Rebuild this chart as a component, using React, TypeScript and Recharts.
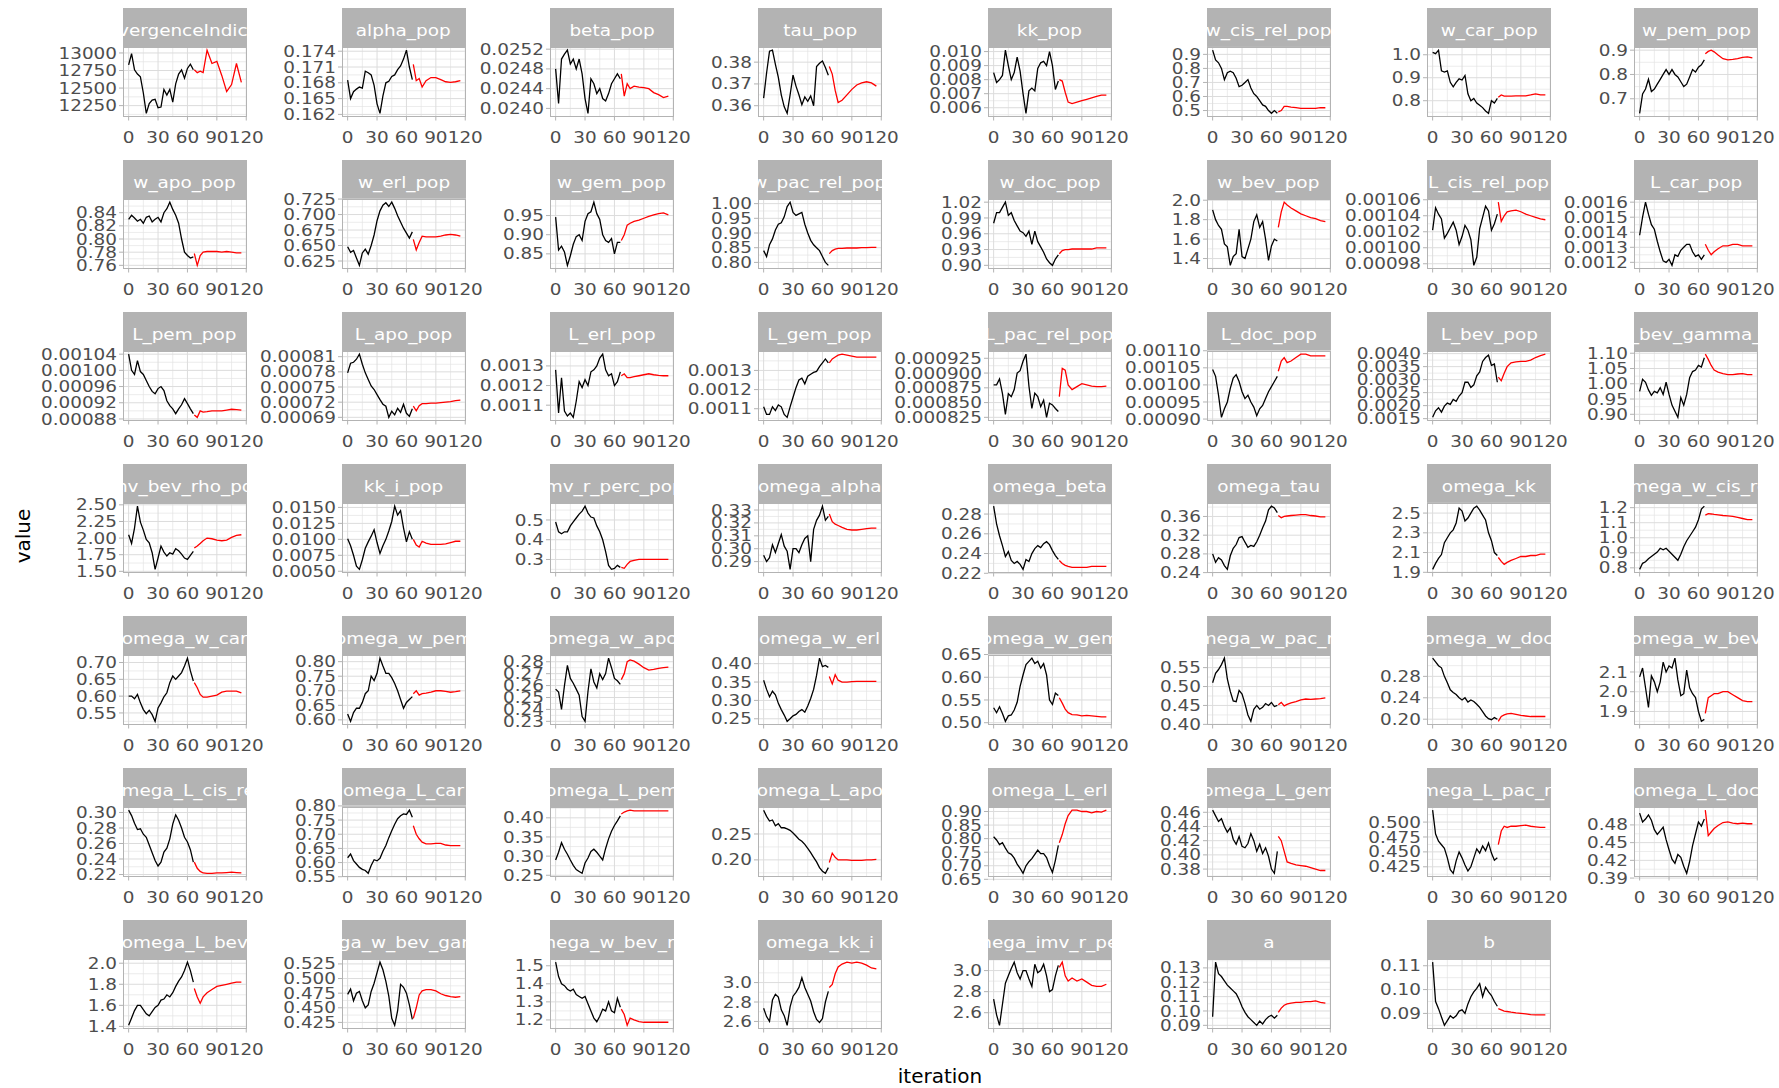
import React from "react";
import { LineChart, Line, XAxis, YAxis, CartesianGrid } from "recharts";

const ITER_B = [0, 3, 6, 9, 12, 15, 18, 21, 24, 27, 30, 33, 36, 39, 42, 45, 48, 51, 54, 57, 60, 63, 66];
const ITER_R = [67, 70, 73, 76, 80, 85, 90, 95, 100, 105, 110, 115];
const X_TICKS = [0, 30, 60, 90, 120];
const X_MINOR = [15, 45, 75, 105];

const convergenceIndicator_b = [12830, 12990, 12760, 12700, 12660, 12430, 12140, 12280, 12330, 12340, 12220, 12230, 12480, 12400, 12480, 12300, 12560, 12700, 12760, 12640, 12780, 12840, 12760];
const convergenceIndicator_r = [12760, 12720, 12740, 12720, 13040, 12850, 12880, 12680, 12450, 12550, 12850, 12580];
const convergenceIndicator_t = ["12250", "12500", "12750", "13000"];

const alpha_pop_b = [0.1685, 0.165, 0.1663, 0.1668, 0.1672, 0.167, 0.1702, 0.1699, 0.1695, 0.1675, 0.164, 0.1622, 0.1655, 0.168, 0.1683, 0.1692, 0.1695, 0.1705, 0.1712, 0.1725, 0.1742, 0.171, 0.1686];
const alpha_pop_r = [0.1715, 0.1684, 0.1688, 0.1672, 0.1684, 0.169, 0.169, 0.1686, 0.1682, 0.1681, 0.1682, 0.1684];
const alpha_pop_t = ["0.162", "0.165", "0.168", "0.171", "0.174"];

const beta_pop_b = [0.0248, 0.0241, 0.025, 0.0251, 0.02518, 0.0249, 0.025, 0.0248, 0.025, 0.0247, 0.0242, 0.0239, 0.0246, 0.0245, 0.0243, 0.0244, 0.0242, 0.02415, 0.0243, 0.0245, 0.0246, 0.0247, 0.0246];
const beta_pop_r = [0.0247, 0.02425, 0.0245, 0.0244, 0.02445, 0.02443, 0.02442, 0.0244, 0.02432, 0.02428, 0.02422, 0.02425];
const beta_pop_t = ["0.0240", "0.0244", "0.0248", "0.0252"];

const tau_pop_b = [0.3635, 0.375, 0.385, 0.3855, 0.379, 0.373, 0.365, 0.3595, 0.3565, 0.365, 0.374, 0.369, 0.365, 0.3605, 0.364, 0.362, 0.3645, 0.36, 0.378, 0.3795, 0.3805, 0.3775, 0.374];
const tau_pop_r = [0.378, 0.3745, 0.367, 0.3615, 0.3625, 0.365, 0.3675, 0.3695, 0.3705, 0.371, 0.3705, 0.369];
const tau_pop_t = ["0.36", "0.37", "0.38"];

const kk_pop_b = [0.0085, 0.0078, 0.008, 0.0083, 0.0101, 0.009, 0.008, 0.0085, 0.0096, 0.0086, 0.007, 0.0056, 0.0072, 0.0074, 0.0072, 0.0088, 0.0092, 0.0093, 0.009, 0.01, 0.009, 0.0073, 0.0079];
const kk_pop_r = [0.008, 0.0079, 0.0071, 0.0064, 0.0063, 0.0064, 0.0065, 0.0066, 0.0067, 0.0068, 0.0069, 0.0069];
const kk_pop_t = ["0.006", "0.007", "0.008", "0.009", "0.010"];

const w_cis_rel_pop_b = [0.93, 0.86, 0.84, 0.8, 0.72, 0.77, 0.78, 0.77, 0.73, 0.67, 0.68, 0.7, 0.72, 0.66, 0.62, 0.6, 0.57, 0.54, 0.53, 0.5, 0.48, 0.5, 0.48];
const w_cis_rel_pop_r = [0.49, 0.5, 0.53, 0.53, 0.525, 0.52, 0.515, 0.515, 0.515, 0.515, 0.52, 0.52];
const w_cis_rel_pop_t = ["0.5", "0.6", "0.7", "0.8", "0.9"];

const w_car_pop_b = [1.01, 1.005, 1.02, 0.93, 0.925, 0.93, 0.88, 0.86, 0.88, 0.895, 0.89, 0.91, 0.83, 0.8, 0.81, 0.79, 0.78, 0.77, 0.755, 0.745, 0.8, 0.79, 0.81];
const w_car_pop_r = [0.815, 0.825, 0.82, 0.82, 0.82, 0.821, 0.821, 0.821, 0.825, 0.83, 0.825, 0.825];
const w_car_pop_t = ["0.8", "0.9", "1.0"];

const w_pem_pop_b = [0.64, 0.72, 0.74, 0.78, 0.73, 0.74, 0.76, 0.78, 0.8, 0.82, 0.8, 0.82, 0.8, 0.79, 0.77, 0.75, 0.76, 0.79, 0.82, 0.81, 0.83, 0.84, 0.86];
const w_pem_pop_r = [0.885, 0.895, 0.9, 0.893, 0.88, 0.865, 0.86, 0.862, 0.865, 0.87, 0.872, 0.868];
const w_pem_pop_t = ["0.7", "0.8", "0.9"];

const w_apo_pop_b = [0.83, 0.836, 0.832, 0.827, 0.83, 0.824, 0.833, 0.835, 0.826, 0.83, 0.833, 0.826, 0.84, 0.846, 0.856, 0.845, 0.836, 0.824, 0.8, 0.78, 0.775, 0.771, 0.773];
const w_apo_pop_r = [0.778, 0.76, 0.775, 0.78, 0.781, 0.781, 0.781, 0.78, 0.781, 0.78, 0.779, 0.779];
const w_apo_pop_t = ["0.76", "0.78", "0.80", "0.82", "0.84"];

const w_erl_pop_b = [0.648, 0.639, 0.642, 0.63, 0.618, 0.638, 0.644, 0.636, 0.65, 0.667, 0.69, 0.706, 0.715, 0.719, 0.713, 0.72, 0.71, 0.698, 0.688, 0.678, 0.67, 0.662, 0.672];
const w_erl_pop_r = [0.66, 0.643, 0.655, 0.665, 0.664, 0.664, 0.664, 0.665, 0.667, 0.668, 0.667, 0.665];
const w_erl_pop_t = ["0.625", "0.650", "0.675", "0.700", "0.725"];

const w_gem_pop_b = [0.946, 0.86, 0.87, 0.855, 0.82, 0.845, 0.875, 0.895, 0.9, 0.885, 0.935, 0.955, 0.96, 0.985, 0.955, 0.94, 0.9, 0.885, 0.88, 0.89, 0.85, 0.88, 0.88];
const w_gem_pop_r = [0.885, 0.9, 0.925, 0.93, 0.935, 0.938, 0.943, 0.948, 0.952, 0.955, 0.957, 0.952];
const w_gem_pop_t = ["0.85", "0.90", "0.95"];

const w_pac_rel_pop_b = [0.84, 0.82, 0.86, 0.88, 0.91, 0.93, 0.935, 0.955, 0.99, 1.005, 0.97, 0.96, 0.965, 0.97, 0.93, 0.9, 0.875, 0.86, 0.85, 0.84, 0.82, 0.8, 0.79];
const w_pac_rel_pop_r = [0.83, 0.84, 0.845, 0.848, 0.848, 0.849, 0.849, 0.849, 0.85, 0.85, 0.851, 0.851];
const w_pac_rel_pop_t = ["0.80", "0.85", "0.90", "0.95", "1.00"];

const w_doc_pop_b = [0.98, 1.0, 1.0, 1.01, 1.02, 0.995, 1.0, 0.985, 0.975, 0.965, 0.962, 0.955, 0.965, 0.94, 0.965, 0.945, 0.935, 0.925, 0.912, 0.905, 0.9, 0.912, 0.92];
const w_doc_pop_r = [0.922, 0.928, 0.93, 0.93, 0.931, 0.931, 0.931, 0.931, 0.931, 0.933, 0.933, 0.933];
const w_doc_pop_t = ["0.90", "0.93", "0.96", "0.99", "1.02"];

const w_bev_pop_b = [1.9, 1.8, 1.74, 1.7, 1.55, 1.52, 1.33, 1.42, 1.45, 1.7, 1.42, 1.4, 1.5, 1.6, 1.78, 1.85, 1.72, 1.78, 1.6, 1.38, 1.53, 1.6, 1.58];
const w_bev_pop_r = [1.72, 1.88, 1.98, 1.95, 1.92, 1.89, 1.86, 1.84, 1.82, 1.81, 1.79, 1.78];
const w_bev_pop_t = ["1.4", "1.6", "1.8", "2.0"];

const L_cis_rel_pop_b = [0.001022, 0.00105, 0.001042, 0.001036, 0.001012, 0.001018, 0.001025, 0.001032, 0.001022, 0.001004, 0.001014, 0.001028, 0.001022, 0.00101, 0.000978, 0.000988, 0.001024, 0.001038, 0.001052, 0.001046, 0.001022, 0.00103, 0.001042];
const L_cis_rel_pop_r = [0.001057, 0.001033, 0.00104, 0.001045, 0.001046, 0.001047, 0.001045, 0.001042, 0.00104, 0.001038, 0.001036, 0.001035];
const L_cis_rel_pop_t = ["0.00098", "0.00100", "0.00102", "0.00104", "0.00106"];

const L_car_pop_b = [0.00138, 0.0015, 0.0016, 0.00152, 0.00145, 0.00142, 0.00134, 0.00127, 0.00121, 0.0012, 0.00122, 0.00118, 0.00125, 0.00124, 0.00128, 0.0013, 0.00132, 0.00132, 0.00127, 0.00124, 0.00125, 0.00122, 0.00125];
const L_car_pop_r = [0.00132, 0.00128, 0.00125, 0.00127, 0.00129, 0.00131, 0.00131, 0.00132, 0.00132, 0.00131, 0.00131, 0.00131];
const L_car_pop_t = ["0.0012", "0.0013", "0.0014", "0.0015", "0.0016"];

const L_pem_pop_b = [0.00104, 0.001, 0.00099, 0.001024, 0.000997, 0.00099, 0.000975, 0.00096, 0.000948, 0.000942, 0.000955, 0.00096, 0.00095, 0.000925, 0.000913, 0.000905, 0.000893, 0.000905, 0.000915, 0.00093, 0.000918, 0.000905, 0.000893];
const L_pem_pop_r = [0.00089, 0.000884, 0.0009, 0.000897, 0.000898, 0.0009, 0.0009, 0.0009, 0.000902, 0.000904, 0.000903, 0.000902];
const L_pem_pop_t = ["0.00088", "0.00092", "0.00096", "0.00100", "0.00104"];

const L_apo_pop_b = [0.000778, 0.000797, 0.000799, 0.000805, 0.000815, 0.000795, 0.000778, 0.000765, 0.000752, 0.000745, 0.000735, 0.000725, 0.000716, 0.000712, 0.00069, 0.000702, 0.000695, 0.000708, 0.0007, 0.000716, 0.000698, 0.000692, 0.000707];
const L_apo_pop_r = [0.000712, 0.000703, 0.000713, 0.000717, 0.000717, 0.000718, 0.000718, 0.000719, 0.00072, 0.000721, 0.000723, 0.000724];
const L_apo_pop_t = ["0.00069", "0.00072", "0.00075", "0.00078", "0.00081"];

const L_erl_pop_b = [0.00128, 0.00106, 0.00124, 0.00107, 0.001045, 0.00106, 0.001038, 0.00112, 0.00122, 0.00119, 0.00123, 0.0012, 0.00127, 0.00128, 0.0013, 0.00134, 0.00136, 0.00128, 0.00125, 0.00126, 0.0012, 0.00122, 0.00127];
const L_erl_pop_r = [0.00125, 0.00126, 0.00124, 0.00124, 0.001245, 0.00125, 0.001255, 0.00126, 0.001255, 0.001252, 0.00125, 0.00125];
const L_erl_pop_t = ["0.0011", "0.0012", "0.0013"];

const L_gem_pop_b = [0.00111, 0.00107, 0.00107, 0.00111, 0.00109, 0.00112, 0.00111, 0.00107, 0.001055, 0.00111, 0.00116, 0.00121, 0.00125, 0.00126, 0.00123, 0.00127, 0.00128, 0.00129, 0.001295, 0.00132, 0.00134, 0.00136, 0.00134];
const L_gem_pop_r = [0.00134, 0.00136, 0.00137, 0.00138, 0.001385, 0.00138, 0.001375, 0.00137, 0.00137, 0.00137, 0.00137, 0.00137];
const L_gem_pop_t = ["0.0011", "0.0012", "0.0013"];

const L_pac_rel_pop_b = [0.00088, 0.00088, 0.00089, 0.000865, 0.00083, 0.000865, 0.00086, 0.000872, 0.0009, 0.000904, 0.00092, 0.000932, 0.000878, 0.00084, 0.000866, 0.00086, 0.000843, 0.000854, 0.000825, 0.000849, 0.000846, 0.00084, 0.000835];
const L_pac_rel_pop_r = [0.00086, 0.000908, 0.000905, 0.00088, 0.000872, 0.000877, 0.000882, 0.00088, 0.000878, 0.000877, 0.000877, 0.000878];
const L_pac_rel_pop_t = ["0.000825", "0.000850", "0.000875", "0.000900", "0.000925"];

const L_doc_pop_b = [0.001045, 0.001025, 0.00097, 0.000905, 0.00093, 0.00095, 0.00099, 0.00102, 0.00103, 0.00101, 0.00098, 0.00096, 0.00097, 0.00095, 0.000935, 0.00091, 0.00093, 0.00094, 0.00096, 0.00098, 0.000995, 0.00101, 0.001025];
const L_doc_pop_r = [0.00104, 0.00107, 0.00108, 0.001065, 0.00107, 0.00108, 0.00109, 0.00109, 0.001085, 0.001085, 0.001085, 0.001085];
const L_doc_pop_t = ["0.00090", "0.00095", "0.00100", "0.00105", "0.00110"];

const L_bev_pop_b = [0.00155, 0.0018, 0.00192, 0.00175, 0.00198, 0.0021, 0.00205, 0.00224, 0.00217, 0.00237, 0.0025, 0.0029, 0.0029, 0.0027, 0.0028, 0.00315, 0.0033, 0.0037, 0.00385, 0.00394, 0.00355, 0.0036, 0.0029];
const L_bev_pop_r = [0.0031, 0.00296, 0.00325, 0.0035, 0.00365, 0.00368, 0.0037, 0.0037, 0.00375, 0.00385, 0.00392, 0.00398];
const L_bev_pop_t = ["0.0015", "0.0020", "0.0025", "0.0030", "0.0035", "0.0040"];

const imv_bev_gamma_pop_b = [0.975, 1.015, 1.005, 0.98, 0.962, 0.975, 0.97, 0.987, 0.965, 1.005, 0.965, 0.93, 0.91, 0.89, 0.955, 0.93, 0.965, 1.02, 1.04, 1.045, 1.06, 1.055, 1.085];
const imv_bev_gamma_pop_r = [1.097, 1.08, 1.06, 1.045, 1.038, 1.033, 1.03, 1.03, 1.032, 1.033, 1.03, 1.03];
const imv_bev_gamma_pop_t = ["0.90", "0.95", "1.00", "1.05", "1.10"];

const imv_bev_rho_pop_b = [2.05, 1.92, 2.15, 2.48, 2.24, 2.12, 1.98, 1.93, 1.78, 1.53, 1.7, 1.88, 1.79, 1.73, 1.78, 1.76, 1.84, 1.81, 1.76, 1.7, 1.68, 1.74, 1.8];
const imv_bev_rho_pop_r = [1.85, 1.88, 1.92, 1.96, 2.0, 1.99, 1.97, 1.96, 1.97, 2.01, 2.04, 2.05];
const imv_bev_rho_pop_t = ["1.50", "1.75", "2.00", "2.25", "2.50"];

const kk_i_pop_b = [0.0101, 0.009, 0.0075, 0.0058, 0.0053, 0.0068, 0.0086, 0.0096, 0.0105, 0.0115, 0.0095, 0.0078, 0.009, 0.01, 0.0113, 0.0128, 0.0152, 0.0138, 0.0145, 0.0118, 0.0096, 0.0112, 0.01];
const kk_i_pop_r = [0.01, 0.0091, 0.0088, 0.0097, 0.0094, 0.0092, 0.0092, 0.0092, 0.0093, 0.0095, 0.0097, 0.0097];
const kk_i_pop_t = ["0.0050", "0.0075", "0.0100", "0.0125", "0.0150"];

const imv_r_perc_pop_b = [0.49, 0.44, 0.43, 0.44, 0.44, 0.47, 0.49, 0.51, 0.53, 0.545, 0.57, 0.535, 0.515, 0.51, 0.47, 0.44, 0.4, 0.34, 0.27, 0.25, 0.255, 0.27, 0.26];
const imv_r_perc_pop_r = [0.26, 0.255, 0.275, 0.29, 0.295, 0.3, 0.3, 0.3, 0.3, 0.3, 0.3, 0.3];
const imv_r_perc_pop_t = ["0.3", "0.4", "0.5"];

const omega_alpha_b = [0.295, 0.29, 0.293, 0.303, 0.297, 0.304, 0.311, 0.302, 0.298, 0.284, 0.3, 0.3, 0.297, 0.303, 0.308, 0.31, 0.29, 0.315, 0.322, 0.326, 0.333, 0.322, 0.325];
const omega_alpha_r = [0.327, 0.321, 0.319, 0.318, 0.3165, 0.315, 0.3145, 0.3145, 0.315, 0.3155, 0.316, 0.316];
const omega_alpha_t = ["0.29", "0.30", "0.31", "0.32", "0.33"];

const omega_beta_b = [0.288, 0.27, 0.258, 0.248, 0.237, 0.242, 0.233, 0.23, 0.232, 0.229, 0.224, 0.234, 0.232, 0.24, 0.245, 0.248, 0.246, 0.25, 0.252, 0.249, 0.243, 0.238, 0.234];
const omega_beta_r = [0.233, 0.23, 0.228, 0.227, 0.226, 0.226, 0.226, 0.226, 0.227, 0.227, 0.227, 0.227];
const omega_beta_t = ["0.22", "0.24", "0.26", "0.28"];

const omega_tau_b = [0.28, 0.262, 0.272, 0.267, 0.255, 0.247, 0.276, 0.292, 0.3, 0.315, 0.317, 0.305, 0.294, 0.298, 0.296, 0.306, 0.32, 0.336, 0.35, 0.374, 0.382, 0.378, 0.368];
const omega_tau_r = [0.362, 0.357, 0.36, 0.361, 0.362, 0.363, 0.364, 0.364, 0.362, 0.361, 0.359, 0.359];
const omega_tau_t = ["0.24", "0.28", "0.32", "0.36"];

const omega_kk_b = [1.93, 1.99, 2.04, 2.08, 2.2, 2.25, 2.3, 2.33, 2.4, 2.55, 2.52, 2.42, 2.45, 2.5, 2.55, 2.57, 2.53, 2.48, 2.43, 2.3, 2.22, 2.1, 2.07];
const omega_kk_r = [2.05, 2.01, 1.98, 2.0, 2.02, 2.04, 2.06, 2.06, 2.07, 2.07, 2.085, 2.085];
const omega_kk_t = ["1.9", "2.1", "2.3", "2.5"];

const omega_w_cis_rel_b = [0.79, 0.83, 0.84, 0.86, 0.875, 0.89, 0.905, 0.93, 0.92, 0.93, 0.91, 0.89, 0.87, 0.85, 0.89, 0.94, 0.98, 1.01, 1.04, 1.07, 1.12, 1.19, 1.21];
const omega_w_cis_rel_r = [1.15, 1.16, 1.158, 1.155, 1.152, 1.148, 1.145, 1.142, 1.135, 1.128, 1.12, 1.12];
const omega_w_cis_rel_t = ["0.8", "0.9", "1.0", "1.1", "1.2"];

const omega_w_car_b = [0.6, 0.6, 0.592, 0.605, 0.58, 0.56, 0.548, 0.558, 0.545, 0.525, 0.565, 0.58, 0.598, 0.61, 0.64, 0.66, 0.65, 0.66, 0.67, 0.69, 0.713, 0.675, 0.645];
const omega_w_car_r = [0.64, 0.625, 0.605, 0.597, 0.597, 0.6, 0.603, 0.612, 0.615, 0.615, 0.615, 0.61];
const omega_w_car_t = ["0.55", "0.60", "0.65", "0.70"];

const omega_w_pem_b = [0.62, 0.595, 0.625, 0.64, 0.64, 0.66, 0.69, 0.7, 0.75, 0.735, 0.76, 0.812, 0.785, 0.76, 0.76, 0.745, 0.725, 0.7, 0.67, 0.64, 0.66, 0.67, 0.68];
const omega_w_pem_r = [0.69, 0.7, 0.685, 0.69, 0.692, 0.695, 0.7, 0.7, 0.698, 0.695, 0.697, 0.7];
const omega_w_pem_t = ["0.60", "0.65", "0.70", "0.75", "0.80"];

const omega_w_apo_b = [0.257, 0.2545, 0.24, 0.26, 0.277, 0.266, 0.262, 0.257, 0.252, 0.234, 0.23, 0.255, 0.274, 0.263, 0.258, 0.27, 0.265, 0.27, 0.283, 0.275, 0.266, 0.264, 0.261];
const omega_w_apo_r = [0.265, 0.27, 0.28, 0.2815, 0.2805, 0.278, 0.275, 0.273, 0.2735, 0.2745, 0.275, 0.2755];
const omega_w_apo_t = ["0.23", "0.24", "0.25", "0.26", "0.27", "0.28"];

const omega_w_erl_b = [0.355, 0.33, 0.31, 0.325, 0.315, 0.292, 0.275, 0.26, 0.243, 0.25, 0.258, 0.262, 0.27, 0.275, 0.268, 0.285, 0.305, 0.33, 0.368, 0.415, 0.392, 0.395, 0.39];
const omega_w_erl_r = [0.365, 0.345, 0.37, 0.355, 0.35, 0.35, 0.351, 0.352, 0.352, 0.352, 0.352, 0.352];
const omega_w_erl_t = ["0.25", "0.30", "0.35", "0.40"];

const omega_w_gem_b = [0.533, 0.522, 0.535, 0.52, 0.503, 0.515, 0.517, 0.528, 0.545, 0.58, 0.605, 0.628, 0.635, 0.642, 0.63, 0.635, 0.62, 0.63, 0.605, 0.55, 0.54, 0.565, 0.56];
const omega_w_gem_r = [0.555, 0.543, 0.53, 0.522, 0.518, 0.517, 0.515, 0.516, 0.515, 0.514, 0.513, 0.513];
const omega_w_gem_t = ["0.50", "0.55", "0.60", "0.65"];

const omega_w_pac_rel_b = [0.51, 0.535, 0.545, 0.558, 0.575, 0.52, 0.487, 0.462, 0.46, 0.49, 0.48, 0.455, 0.425, 0.408, 0.44, 0.45, 0.44, 0.445, 0.455, 0.45, 0.458, 0.447, 0.45];
const omega_w_pac_rel_r = [0.452, 0.458, 0.449, 0.453, 0.457, 0.46, 0.465, 0.467, 0.466, 0.467, 0.468, 0.47];
const omega_w_pac_rel_t = ["0.40", "0.45", "0.50", "0.55"];

const omega_w_doc_b = [0.314, 0.307, 0.3, 0.296, 0.28, 0.268, 0.255, 0.25, 0.246, 0.24, 0.236, 0.24, 0.232, 0.236, 0.233, 0.228, 0.222, 0.214, 0.206, 0.201, 0.199, 0.203, 0.2];
const omega_w_doc_r = [0.196, 0.205, 0.208, 0.21, 0.211, 0.209, 0.207, 0.206, 0.205, 0.205, 0.205, 0.205];
const omega_w_doc_t = ["0.20", "0.24", "0.28"];

const omega_w_bev_b = [2.075, 2.12, 2.02, 1.92, 2.08, 2.05, 2.0, 2.05, 2.15, 2.1, 2.13, 2.12, 2.17, 2.06, 1.98, 1.99, 2.11, 2.02, 1.99, 1.97, 1.9, 1.85, 1.86];
const omega_w_bev_r = [1.89, 1.97, 1.98, 1.99, 1.99, 2.0, 2.0, 1.985, 1.97, 1.955, 1.95, 1.95];
const omega_w_bev_t = ["1.9", "2.0", "2.1"];

const omega_L_cis_rel_b = [0.303, 0.296, 0.286, 0.278, 0.279, 0.272, 0.268, 0.258, 0.248, 0.238, 0.231, 0.236, 0.249, 0.254, 0.266, 0.285, 0.297, 0.29, 0.28, 0.268, 0.262, 0.252, 0.236];
const omega_L_cis_rel_r = [0.236, 0.228, 0.224, 0.222, 0.2215, 0.2215, 0.222, 0.222, 0.2225, 0.223, 0.2225, 0.222];
const omega_L_cis_rel_t = ["0.22", "0.24", "0.26", "0.28", "0.30"];

const omega_L_car_b = [0.617, 0.63, 0.607, 0.595, 0.583, 0.576, 0.572, 0.562, 0.59, 0.61, 0.606, 0.615, 0.64, 0.66, 0.688, 0.712, 0.735, 0.755, 0.765, 0.772, 0.77, 0.785, 0.76];
const omega_L_car_r = [0.73, 0.7, 0.684, 0.672, 0.666, 0.666, 0.668, 0.668, 0.662, 0.66, 0.66, 0.66];
const omega_L_car_t = ["0.55", "0.60", "0.65", "0.70", "0.75", "0.80"];

const omega_L_pem_b = [0.29, 0.31, 0.335, 0.318, 0.305, 0.29, 0.276, 0.265, 0.26, 0.255, 0.282, 0.295, 0.312, 0.318, 0.31, 0.3, 0.29, 0.32, 0.345, 0.365, 0.38, 0.392, 0.405];
const omega_L_pem_r = [0.41, 0.415, 0.418, 0.42, 0.418, 0.418, 0.418, 0.418, 0.418, 0.418, 0.418, 0.418];
const omega_L_pem_t = ["0.25", "0.30", "0.35", "0.40"];

const omega_L_apo_b = [0.296, 0.284, 0.275, 0.277, 0.266, 0.27, 0.262, 0.262, 0.26, 0.257, 0.252, 0.246, 0.24, 0.236, 0.23, 0.222, 0.214, 0.205, 0.196, 0.185, 0.178, 0.174, 0.185];
const omega_L_apo_r = [0.195, 0.213, 0.205, 0.2, 0.2, 0.2, 0.199, 0.199, 0.199, 0.2, 0.2, 0.201];
const omega_L_apo_t = ["0.20", "0.25"];

const omega_L_erl_b = [0.807, 0.795, 0.778, 0.785, 0.765, 0.748, 0.742, 0.728, 0.706, 0.69, 0.672, 0.7, 0.715, 0.726, 0.742, 0.758, 0.745, 0.745, 0.73, 0.7, 0.675, 0.72, 0.775];
const omega_L_erl_r = [0.785, 0.815, 0.855, 0.885, 0.905, 0.905, 0.9, 0.9, 0.895, 0.9, 0.898, 0.905];
const omega_L_erl_t = ["0.65", "0.70", "0.75", "0.80", "0.85", "0.90"];

const omega_L_gem_b = [0.463, 0.455, 0.447, 0.451, 0.44, 0.432, 0.438, 0.422, 0.415, 0.426, 0.412, 0.41, 0.416, 0.43, 0.42, 0.405, 0.415, 0.402, 0.41, 0.398, 0.38, 0.374, 0.405];
const omega_L_gem_r = [0.426, 0.42, 0.405, 0.39, 0.388, 0.386, 0.385, 0.384, 0.382, 0.38, 0.378, 0.378];
const omega_L_gem_t = ["0.38", "0.40", "0.42", "0.44", "0.46"];

const omega_L_pac_rel_b = [0.52, 0.48, 0.468, 0.462, 0.456, 0.44, 0.42, 0.414, 0.435, 0.45, 0.44, 0.428, 0.418, 0.425, 0.44, 0.455, 0.448, 0.46, 0.452, 0.465, 0.448, 0.436, 0.44];
const omega_L_pac_rel_r = [0.462, 0.485, 0.493, 0.491, 0.493, 0.493, 0.494, 0.495, 0.493, 0.492, 0.491, 0.491];
const omega_L_pac_rel_t = ["0.425", "0.450", "0.475", "0.500"];

const omega_L_doc_b = [0.5, 0.485, 0.49, 0.497, 0.488, 0.472, 0.464, 0.47, 0.476, 0.455, 0.438, 0.422, 0.415, 0.43, 0.425, 0.41, 0.398, 0.418, 0.445, 0.465, 0.485, 0.478, 0.49];
const omega_L_doc_r = [0.505, 0.462, 0.468, 0.474, 0.479, 0.484, 0.485, 0.483, 0.482, 0.483, 0.482, 0.482];
const omega_L_doc_t = ["0.39", "0.42", "0.45", "0.48"];

const omega_L_bev_b = [1.41, 1.48, 1.55, 1.6, 1.6, 1.56, 1.52, 1.5, 1.54, 1.58, 1.6, 1.65, 1.66, 1.7, 1.68, 1.72, 1.78, 1.83, 1.87, 1.93, 2.01, 1.93, 1.82];
const omega_L_bev_r = [1.76, 1.68, 1.62, 1.68, 1.72, 1.75, 1.78, 1.79, 1.8, 1.81, 1.82, 1.82];
const omega_L_bev_t = ["1.4", "1.6", "1.8", "2.0"];

const omega_w_bev_gamma_b = [0.473, 0.482, 0.462, 0.475, 0.478, 0.462, 0.45, 0.455, 0.478, 0.492, 0.51, 0.528, 0.515, 0.495, 0.47, 0.432, 0.42, 0.445, 0.49, 0.485, 0.475, 0.455, 0.43];
const omega_w_bev_gamma_r = [0.432, 0.45, 0.472, 0.479, 0.481, 0.481, 0.479, 0.474, 0.471, 0.469, 0.468, 0.469];
const omega_w_bev_gamma_t = ["0.425", "0.450", "0.475", "0.500", "0.525"];

const omega_w_bev_rho_b = [1.52, 1.44, 1.4, 1.39, 1.37, 1.36, 1.37, 1.34, 1.33, 1.32, 1.33, 1.29, 1.25, 1.21, 1.19, 1.22, 1.26, 1.25, 1.3, 1.25, 1.24, 1.32, 1.27];
const omega_w_bev_rho_r = [1.26, 1.23, 1.17, 1.21, 1.2, 1.19, 1.187, 1.187, 1.187, 1.187, 1.187, 1.187];
const omega_w_bev_rho_t = ["1.2", "1.3", "1.4", "1.5"];

const omega_kk_i_b = [2.735, 2.65, 2.6, 2.82, 2.88, 2.85, 2.72, 2.66, 2.56, 2.75, 2.86, 2.9, 2.95, 3.05, 2.95, 2.88, 2.81, 2.7, 2.62, 2.59, 2.63, 2.8, 2.91];
const omega_kk_i_r = [2.95, 2.98, 3.09, 3.16, 3.19, 3.21, 3.2, 3.21, 3.2, 3.18, 3.15, 3.14];
const omega_kk_i_t = ["2.6", "2.8", "3.0"];

const omega_imv_r_perc_b = [2.73, 2.58, 2.48, 2.68, 2.88, 2.95, 3.02, 3.08, 2.98, 2.92, 3.0, 3.0, 2.92, 2.85, 3.06, 2.98, 3.0, 3.06, 2.95, 2.8, 2.82, 2.95, 3.05];
const omega_imv_r_perc_r = [3.03, 3.08, 2.95, 2.9, 2.93, 2.9, 2.92, 2.89, 2.86, 2.85, 2.85, 2.87];
const omega_imv_r_perc_t = ["2.6", "2.8", "3.0"];

const a_b = [0.096, 0.134, 0.126, 0.124, 0.121, 0.118, 0.116, 0.114, 0.112, 0.108, 0.103, 0.099, 0.096, 0.094, 0.092, 0.09, 0.093, 0.091, 0.094, 0.096, 0.097, 0.095, 0.097];
const a_r = [0.099, 0.102, 0.104, 0.105, 0.1055, 0.106, 0.106, 0.1065, 0.1065, 0.107, 0.106, 0.1055];
const a_t = ["0.09", "0.10", "0.11", "0.12", "0.13"];

const b_b = [0.1115, 0.095, 0.092, 0.0885, 0.085, 0.087, 0.089, 0.088, 0.089, 0.091, 0.0915, 0.09, 0.094, 0.097, 0.099, 0.1005, 0.1025, 0.097, 0.101, 0.099, 0.0975, 0.095, 0.093];
const b_r = [0.092, 0.0915, 0.091, 0.0908, 0.0905, 0.0902, 0.09, 0.0898, 0.0895, 0.0894, 0.0894, 0.0894];
const b_t = ["0.09", "0.10", "0.11"];

const PANELS = [
  { name: "convergenceIndicator", b: convergenceIndicator_b, r: convergenceIndicator_r, t: convergenceIndicator_t },
  { name: "alpha_pop", b: alpha_pop_b, r: alpha_pop_r, t: alpha_pop_t },
  { name: "beta_pop", b: beta_pop_b, r: beta_pop_r, t: beta_pop_t },
  { name: "tau_pop", b: tau_pop_b, r: tau_pop_r, t: tau_pop_t },
  { name: "kk_pop", b: kk_pop_b, r: kk_pop_r, t: kk_pop_t },
  { name: "w_cis_rel_pop", b: w_cis_rel_pop_b, r: w_cis_rel_pop_r, t: w_cis_rel_pop_t },
  { name: "w_car_pop", b: w_car_pop_b, r: w_car_pop_r, t: w_car_pop_t },
  { name: "w_pem_pop", b: w_pem_pop_b, r: w_pem_pop_r, t: w_pem_pop_t },
  { name: "w_apo_pop", b: w_apo_pop_b, r: w_apo_pop_r, t: w_apo_pop_t },
  { name: "w_erl_pop", b: w_erl_pop_b, r: w_erl_pop_r, t: w_erl_pop_t },
  { name: "w_gem_pop", b: w_gem_pop_b, r: w_gem_pop_r, t: w_gem_pop_t },
  { name: "w_pac_rel_pop", b: w_pac_rel_pop_b, r: w_pac_rel_pop_r, t: w_pac_rel_pop_t },
  { name: "w_doc_pop", b: w_doc_pop_b, r: w_doc_pop_r, t: w_doc_pop_t },
  { name: "w_bev_pop", b: w_bev_pop_b, r: w_bev_pop_r, t: w_bev_pop_t },
  { name: "L_cis_rel_pop", b: L_cis_rel_pop_b, r: L_cis_rel_pop_r, t: L_cis_rel_pop_t },
  { name: "L_car_pop", b: L_car_pop_b, r: L_car_pop_r, t: L_car_pop_t },
  { name: "L_pem_pop", b: L_pem_pop_b, r: L_pem_pop_r, t: L_pem_pop_t },
  { name: "L_apo_pop", b: L_apo_pop_b, r: L_apo_pop_r, t: L_apo_pop_t },
  { name: "L_erl_pop", b: L_erl_pop_b, r: L_erl_pop_r, t: L_erl_pop_t },
  { name: "L_gem_pop", b: L_gem_pop_b, r: L_gem_pop_r, t: L_gem_pop_t },
  { name: "L_pac_rel_pop", b: L_pac_rel_pop_b, r: L_pac_rel_pop_r, t: L_pac_rel_pop_t },
  { name: "L_doc_pop", b: L_doc_pop_b, r: L_doc_pop_r, t: L_doc_pop_t },
  { name: "L_bev_pop", b: L_bev_pop_b, r: L_bev_pop_r, t: L_bev_pop_t },
  { name: "imv_bev_gamma_pop", b: imv_bev_gamma_pop_b, r: imv_bev_gamma_pop_r, t: imv_bev_gamma_pop_t },
  { name: "imv_bev_rho_pop", b: imv_bev_rho_pop_b, r: imv_bev_rho_pop_r, t: imv_bev_rho_pop_t },
  { name: "kk_i_pop", b: kk_i_pop_b, r: kk_i_pop_r, t: kk_i_pop_t },
  { name: "imv_r_perc_pop", b: imv_r_perc_pop_b, r: imv_r_perc_pop_r, t: imv_r_perc_pop_t },
  { name: "omega_alpha", b: omega_alpha_b, r: omega_alpha_r, t: omega_alpha_t },
  { name: "omega_beta", b: omega_beta_b, r: omega_beta_r, t: omega_beta_t },
  { name: "omega_tau", b: omega_tau_b, r: omega_tau_r, t: omega_tau_t },
  { name: "omega_kk", b: omega_kk_b, r: omega_kk_r, t: omega_kk_t },
  { name: "omega_w_cis_rel", b: omega_w_cis_rel_b, r: omega_w_cis_rel_r, t: omega_w_cis_rel_t },
  { name: "omega_w_car", b: omega_w_car_b, r: omega_w_car_r, t: omega_w_car_t },
  { name: "omega_w_pem", b: omega_w_pem_b, r: omega_w_pem_r, t: omega_w_pem_t },
  { name: "omega_w_apo", b: omega_w_apo_b, r: omega_w_apo_r, t: omega_w_apo_t },
  { name: "omega_w_erl", b: omega_w_erl_b, r: omega_w_erl_r, t: omega_w_erl_t },
  { name: "omega_w_gem", b: omega_w_gem_b, r: omega_w_gem_r, t: omega_w_gem_t },
  { name: "omega_w_pac_rel", b: omega_w_pac_rel_b, r: omega_w_pac_rel_r, t: omega_w_pac_rel_t },
  { name: "omega_w_doc", b: omega_w_doc_b, r: omega_w_doc_r, t: omega_w_doc_t },
  { name: "omega_w_bev", b: omega_w_bev_b, r: omega_w_bev_r, t: omega_w_bev_t },
  { name: "omega_L_cis_rel", b: omega_L_cis_rel_b, r: omega_L_cis_rel_r, t: omega_L_cis_rel_t },
  { name: "omega_L_car", b: omega_L_car_b, r: omega_L_car_r, t: omega_L_car_t },
  { name: "omega_L_pem", b: omega_L_pem_b, r: omega_L_pem_r, t: omega_L_pem_t },
  { name: "omega_L_apo", b: omega_L_apo_b, r: omega_L_apo_r, t: omega_L_apo_t },
  { name: "omega_L_erl", b: omega_L_erl_b, r: omega_L_erl_r, t: omega_L_erl_t },
  { name: "omega_L_gem", b: omega_L_gem_b, r: omega_L_gem_r, t: omega_L_gem_t },
  { name: "omega_L_pac_rel", b: omega_L_pac_rel_b, r: omega_L_pac_rel_r, t: omega_L_pac_rel_t },
  { name: "omega_L_doc", b: omega_L_doc_b, r: omega_L_doc_r, t: omega_L_doc_t },
  { name: "omega_L_bev", b: omega_L_bev_b, r: omega_L_bev_r, t: omega_L_bev_t },
  { name: "omega_w_bev_gamma", b: omega_w_bev_gamma_b, r: omega_w_bev_gamma_r, t: omega_w_bev_gamma_t },
  { name: "omega_w_bev_rho", b: omega_w_bev_rho_b, r: omega_w_bev_rho_r, t: omega_w_bev_rho_t },
  { name: "omega_kk_i", b: omega_kk_i_b, r: omega_kk_i_r, t: omega_kk_i_t },
  { name: "omega_imv_r_perc", b: omega_imv_r_perc_b, r: omega_imv_r_perc_r, t: omega_imv_r_perc_t },
  { name: "a", b: a_b, r: a_r, t: a_t },
  { name: "b", b: b_b, r: b_r, t: b_t },
];

const COL_LEFT = [122.7, 341.7, 549.7, 757.7, 987.5, 1206.7, 1426.8, 1634.3];
const ROW_TOP = 7.5;
const ROW_STEP = 152;
const STRIP_H = 39.5;
const PLOT_H = 69.5;
const PLOT_W = 124;
const AXIS_W = 120;
const RIGHT_PAD = 24;
const TOP_PAD = 14;
const XAXIS_H = 40;
const FONT = "'DejaVu Sans', Verdana, sans-serif";
const TEXT_SCALE = 1.15;
const TICK_COLOR = "#4D4D4D";

function XTick(props: any) {
  const { x, y, payload } = props;
  return (
    <g transform={`translate(${x},${y + 15}) scale(${TEXT_SCALE},1)`}>
      <text x={0} y={0} textAnchor="middle" dominantBaseline="central" fill={TICK_COLOR} fontSize={16} fontFamily={FONT}>
        {String(payload.value)}
      </text>
    </g>
  );
}

function YTick(props: any) {
  const { x, y, payload, labels, tickVals } = props;
  const i = tickVals.findIndex((v: number) => Math.abs(v - payload.value) < 1e-12);
  const label = i >= 0 ? labels[i] : String(payload.value);
  return (
    <g transform={`translate(${x},${y}) scale(${TEXT_SCALE},1)`}>
      <text x={0} y={0} textAnchor="end" dominantBaseline="central" fill={TICK_COLOR} fontSize={16} fontFamily={FONT}>
        {label}
      </text>
    </g>
  );
}

function Panel({ p, idx }: { p: any; idx: number }) {
  const row = Math.floor(idx / 8);
  const col = idx % 8;
  const L = COL_LEFT[col];
  const stripTop = ROW_TOP + row * ROW_STEP;
  const plotTop = stripTop + STRIP_H;
  const all = [...p.b, ...p.r];
  const mn = Math.min(...all);
  const mx = Math.max(...all);
  const pad = (mx - mn) * 0.05;
  const domain = [mn - pad, mx + pad];
  const tickVals = p.t.map(Number);
  const step = tickVals[1] - tickVals[0];
  const minor: number[] = [];
  for (let k = -1; k < tickVals.length; k++) {
    const v = tickVals[0] + step * (k + 0.5);
    if (v > domain[0] && v < domain[1]) minor.push(v);
  }
  const data = [
    ...ITER_B.map((it, i) => ({ it, b: p.b[i] })),
    ...ITER_R.map((it, i) => ({ it, r: p.r[i] })),
  ];
  const w = AXIS_W + PLOT_W + RIGHT_PAD;
  const h = TOP_PAD + PLOT_H + XAXIS_H;
  return (
    <>
      <div
        style={{
          position: "absolute",
          left: L,
          top: stripTop,
          width: PLOT_W,
          height: STRIP_H,
          background: "#B3B3B3",
          overflow: "hidden",
          display: "flex",
          justifyContent: "center",
          alignItems: "center",
        }}
      >
        <span
          style={{
            whiteSpace: "nowrap",
            flexShrink: 0,
            color: "#FFFFFF",
            fontSize: 16,
            fontFamily: FONT,
            transform: `translateY(3px) scaleX(${TEXT_SCALE})`,
          }}
        >
          {p.name}
        </span>
      </div>
      <div style={{ position: "absolute", left: L - AXIS_W, top: plotTop - TOP_PAD, width: w, height: h }}>
        <LineChart width={w} height={h} data={data} margin={{ top: TOP_PAD, right: RIGHT_PAD, bottom: 0, left: 0 }}>
          <CartesianGrid stroke="#E4E4E4" strokeWidth={0.7} horizontalValues={minor} verticalValues={X_MINOR} />
          <CartesianGrid stroke="#DCDCDC" strokeWidth={1} horizontalValues={tickVals} verticalValues={X_TICKS} />
          <XAxis
            type="number"
            dataKey="it"
            domain={[-5.75, 120.75]}
            ticks={X_TICKS}
            allowDataOverflow
            axisLine={false}
            tickLine={{ stroke: "#B3B3B3" }}
            tickSize={4}
            tickMargin={2}
            height={XAXIS_H}
            interval={0}
            tick={XTick}
          />
          <YAxis
            type="number"
            domain={domain}
            ticks={tickVals}
            allowDataOverflow
            axisLine={false}
            tickLine={{ stroke: "#B3B3B3" }}
            tickSize={4}
            tickMargin={2}
            width={AXIS_W}
            interval={0}
            tick={(tp: any) => <YTick {...tp} labels={p.t} tickVals={tickVals} />}
          />
          <Line type="linear" dataKey="b" stroke="#000000" strokeWidth={1.3} dot={false} activeDot={false} isAnimationActive={false} connectNulls={false} />
          <Line type="linear" dataKey="r" stroke="#FF0000" strokeWidth={1.3} dot={false} activeDot={false} isAnimationActive={false} connectNulls={false} />
        </LineChart>
      </div>
      <div
        style={{
          position: "absolute",
          left: L,
          top: plotTop,
          width: PLOT_W,
          height: PLOT_H,
          border: "1.3px solid #B3B3B3",
          boxSizing: "border-box",
          pointerEvents: "none",
        }}
      />
    </>
  );
}

export default function App() {
  return (
    <div
      style={{
        position: "fixed",
        left: 0,
        top: 0,
        width: 1779,
        height: 1088,
        background: "#FFFFFF",
        overflow: "hidden",
        fontFamily: FONT,
      }}
    >
      {PANELS.map((p, i) => (
        <Panel key={p.name} p={p} idx={i} />
      ))}
      <div
        style={{
          position: "absolute",
          left: 23,
          top: 536,
          transform: "translate(-50%, -50%) rotate(-90deg)",
          fontSize: 20,
          color: "#000000",
          whiteSpace: "nowrap",
        }}
      >
        value
      </div>
      <div
        style={{
          position: "absolute",
          left: 940,
          top: 1076,
          transform: "translate(-50%, -50%)",
          fontSize: 20,
          color: "#000000",
          whiteSpace: "nowrap",
        }}
      >
        iteration
      </div>
    </div>
  );
}
